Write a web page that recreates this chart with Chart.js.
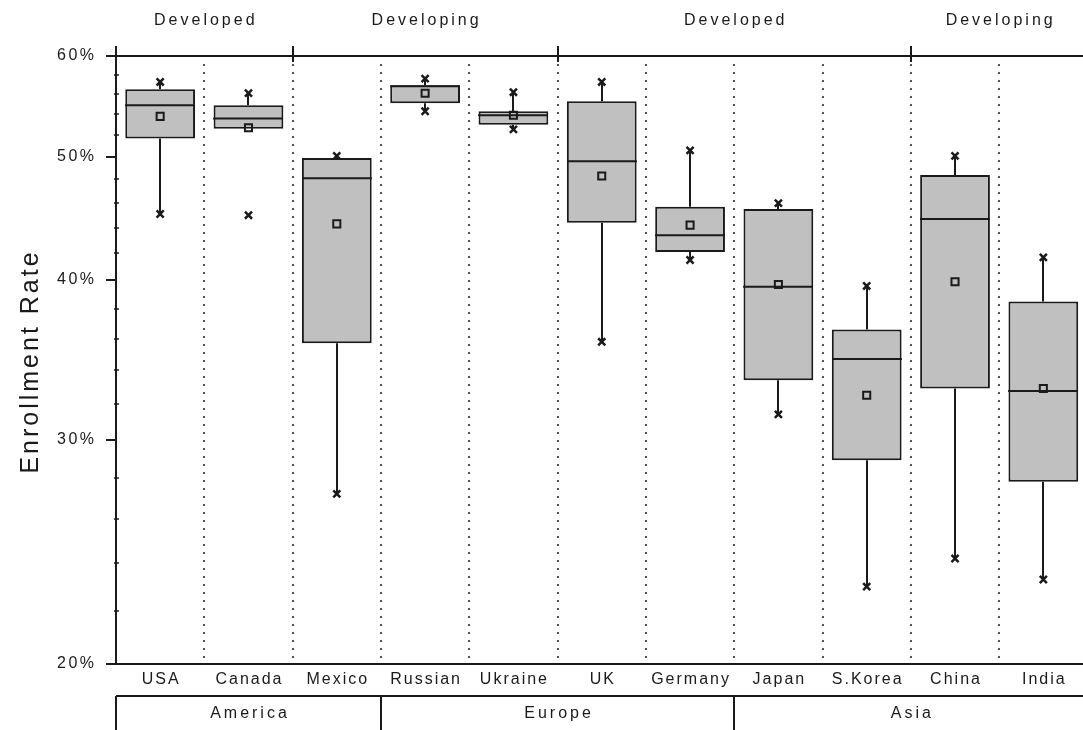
<!DOCTYPE html>
<html>
<head>
<meta charset="utf-8">
<title>Enrollment Rate</title>
<script src="https://cdn.jsdelivr.net/npm/chart.js@4.4.0/dist/chart.umd.min.js"></script>
<style>
    html, body { margin: 0; padding: 0; background: #fff; overflow: hidden; }
    #chartWrap { width: 1083px; height: 730px; overflow: hidden; }
</style>
</head>
<body>
<div id="chartWrap"><canvas id="boxChart" width="1095" height="730"></canvas></div>
<script>
// ============================================================================
// Data
// ============================================================================
const countries = ['USA', 'Canada', 'Mexico', 'Russian', 'Ukraine', 'UK', 'Germany', 'Japan', 'S.Korea', 'China', 'India'];

const q1Values      = [51.7, 52.6, 35.7, 55.1, 53.0, 44.4, 42.1, 33.4, 28.9, 32.9, 27.8];
const q3Values      = [56.5, 54.9, 49.9, 56.9, 54.3, 55.3, 45.7, 45.5, 36.6, 48.4, 38.5];
const medianValues  = [54.9, 53.6, 48.1, 56.8, 53.9, 49.6, 43.4, 39.55, 34.7, 44.7, 32.75];
const meanValues    = [53.8, 52.7, 44.3, 56.1, 53.9, 48.3, 44.2, 39.7, 32.5, 39.9, 32.9];
const whiskerLow    = [45.1, 52.6, 27.2, 54.3, 52.55, 35.8, 41.5, 31.4, 23.0, 24.2, 23.3];
const whiskerHigh   = [57.25, 56.1, 50.1, 57.6, 56.2, 57.25, 50.6, 46.0, 39.6, 50.1, 41.7];
const minMarks      = [45.1, 45.0, 27.2, 54.3, 52.55, 35.8, 41.5, 31.4, 23.0, 24.2, 23.3];
const maxMarks      = [57.25, 56.1, 50.1, 57.6, 56.2, 57.25, 50.6, 46.0, 39.6, 50.1, 41.7];

// Groups across the top (status) and along the bottom (region)
const statusLabels = ['Developed', 'Developing', 'Developed', 'Developing'];
const statusStarts = [0, 2, 5, 9];
const regionLabels = ['America', 'Europe', 'Asia'];
const regionStarts = [0, 3, 7];

// Y axis ticks
const majorTicks = [20, 30, 40, 50, 60];
const minorTicks = [22, 24, 26, 28, 32, 34, 36, 38, 42, 44, 46, 48, 52, 54, 56, 58];

const INK = '#1a1a1a';
const BOX_FILL = '#c0c0c0';
const FONT = '"Liberation Sans", Arial, sans-serif';

// ============================================================================
// Helpers
// ============================================================================
function drawText(ctx, text, x, y, font, spacing, align) {
    align = align || 'center';
    ctx.save();
    ctx.font = font;
    ctx.letterSpacing = spacing + 'px';
    ctx.textAlign = align;
    ctx.textBaseline = 'middle';
    ctx.fillStyle = INK;
    // letterSpacing also adds room after the last glyph
    const shift = align === 'right' ? spacing : (align === 'left' ? 0 : spacing / 2);
    ctx.fillText(text, x + shift, y);
    ctx.restore();
}

function line(ctx, x1, y1, x2, y2) {
    ctx.beginPath();
    ctx.moveTo(x1, y1);
    ctx.lineTo(x2, y2);
    ctx.stroke();
}

function categoryEdge(xScale, i) {
    return xScale.left + i * (xScale.right - xScale.left) / countries.length;
}

// ============================================================================
// Plugin: whiskers, medians, axes frame, group labels
// ============================================================================
const boxExtras = {
    id: 'boxExtras',
    beforeDatasetsDraw(chart) {
        const { ctx, scales: { x, y } } = chart;
        ctx.save();
        ctx.strokeStyle = '#555';
        ctx.lineWidth = 2;
        ctx.setLineDash([2, 6]);
        for (let i = 1; i < countries.length; i++) {
            const px = Math.round(categoryEdge(x, i));
            line(ctx, px, y.top + 8, px, y.bottom - 6);
        }
        ctx.restore();
    },
    afterDatasetDraw(chart, args) {
        if (args.index !== 0) return;
        const { ctx, scales: { x, y } } = chart;
        const bars = chart.getDatasetMeta(0).data;
        ctx.save();
        ctx.strokeStyle = INK;
        ctx.lineWidth = 2;
        countries.forEach((c, i) => {
            const px = Math.round(x.getPixelForValue(i));
            const half = bars[i].width / 2;
            if (whiskerLow[i] < q1Values[i]) {
                line(ctx, px, y.getPixelForValue(q1Values[i]), px, y.getPixelForValue(whiskerLow[i]));
            }
            if (whiskerHigh[i] > q3Values[i]) {
                line(ctx, px, y.getPixelForValue(q3Values[i]), px, y.getPixelForValue(whiskerHigh[i]));
            }
            const my = y.getPixelForValue(medianValues[i]);
            line(ctx, px - half, my, px + half, my);
        });
        ctx.restore();
    },
    afterDraw(chart) {
        const { ctx, scales: { x, y } } = chart;
        const right = chart.width;
        const labelFont = '16px ' + FONT;
        ctx.save();
        ctx.strokeStyle = INK;
        ctx.lineWidth = 2;

        // frame lines
        line(ctx, x.left, y.top - 10, x.left, y.bottom);
        line(ctx, x.left, y.top, right, y.top);
        line(ctx, x.left - 10, y.bottom, right, y.bottom);

        // y ticks
        majorTicks.forEach(v => {
            const py = Math.round(y.getPixelForValue(v));
            line(ctx, x.left - 10, py, x.left, py);
            drawText(ctx, v + '%', x.left - 22, py, labelFont, 2.5, 'right');
        });
        ctx.lineWidth = 1.5;
        minorTicks.forEach(v => {
            const py = Math.round(y.getPixelForValue(v));
            line(ctx, x.left - 2, py, x.left + 3, py);
        });

        // top status groups
        ctx.lineWidth = 2;
        statusStarts.forEach((s, g) => {
            const left = categoryEdge(x, s);
            const end = g + 1 < statusStarts.length ? statusStarts[g + 1] : countries.length;
            const rightEdge = categoryEdge(x, end);
            if (s > 0) line(ctx, Math.round(left), y.top - 10, Math.round(left), y.top + 6);
            drawText(ctx, statusLabels[g], (left + rightEdge) / 2, 21, labelFont, 3);
        });

        // category labels
        countries.forEach((c, i) => {
            drawText(ctx, c, x.getPixelForValue(i), 680, labelFont, 2);
        });

        // region row
        const rowTop = 696;
        line(ctx, x.left, rowTop, right, rowTop);
        regionStarts.forEach((s, g) => {
            const left = categoryEdge(x, s);
            const end = g + 1 < regionStarts.length ? regionStarts[g + 1] : countries.length;
            const rightEdge = categoryEdge(x, end);
            line(ctx, Math.round(left), rowTop, Math.round(left), chart.height);
            drawText(ctx, regionLabels[g], (left + rightEdge) / 2, 714, labelFont, 3);
        });

        // y axis title
        ctx.save();
        ctx.translate(31, 363);
        ctx.rotate(-Math.PI / 2);
        drawText(ctx, 'Enrollment Rate', 0, 0, '25px ' + FONT, 3);
        ctx.restore();

        ctx.restore();
    }
};

// ============================================================================
// Chart
// ============================================================================
const ctx = document.getElementById('boxChart').getContext('2d');

new Chart(ctx, {
    type: 'bar',
    data: {
        labels: countries,
        datasets: [
            {
                label: 'Box',
                data: countries.map((c, i) => [q1Values[i], q3Values[i]]),
                backgroundColor: BOX_FILL,
                borderColor: INK,
                borderWidth: 2,
                borderSkipped: false,
                barPercentage: 0.79,
                categoryPercentage: 1,
                order: 3
            },
            {
                type: 'line',
                label: 'Mean',
                data: meanValues,
                showLine: false,
                pointStyle: 'rect',
                pointRadius: 5,
                pointBackgroundColor: 'rgba(0,0,0,0)',
                pointBorderColor: INK,
                pointBorderWidth: 2,
                order: 1
            },
            {
                type: 'line',
                label: 'Min',
                data: minMarks,
                showLine: false,
                pointStyle: 'crossRot',
                pointRadius: 5,
                pointBorderColor: INK,
                pointBorderWidth: 2.5,
                order: 0
            },
            {
                type: 'line',
                label: 'Max',
                data: maxMarks,
                showLine: false,
                pointStyle: 'crossRot',
                pointRadius: 5,
                pointBorderColor: INK,
                pointBorderWidth: 2.5,
                order: 0
            }
        ]
    },
    options: {
        responsive: false,
        animation: false,
        layout: { padding: { left: 116, right: 2, top: 56, bottom: 66 } },
        plugins: {
            legend: { display: false },
            tooltip: { enabled: false }
        },
        scales: {
            x: {
                offset: true,
                grid: { display: false },
                border: { display: false },
                ticks: { display: false },
                afterFit(scale) { scale.height = 0; }
            },
            y: {
                type: 'logarithmic',
                min: 20,
                max: 60,
                grid: { display: false },
                border: { display: false },
                ticks: { display: false },
                afterBuildTicks(scale) { scale.ticks = majorTicks.map(v => ({ value: v })); },
                afterFit(scale) { scale.width = 0; }
            }
        }
    },
    plugins: [boxExtras]
});
</script>
</body>
</html>
